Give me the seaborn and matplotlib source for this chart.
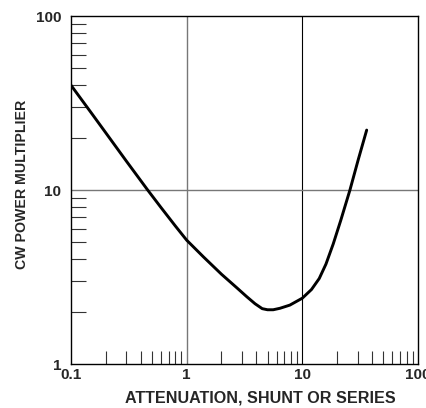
import matplotlib
matplotlib.use("Agg")
import matplotlib.pyplot as plt
import matplotlib.ticker as mticker
import numpy as np
import pandas as pd
import seaborn as sns

# curve (log-log)
attenuation = [0.1, 0.15, 0.2, 0.3, 0.46, 0.6, 0.8, 1.0, 1.4, 2.0, 2.7, 3.3, 3.9,
               4.5, 5.0, 5.6, 6.4, 7.8, 10, 12, 14, 16, 18.5, 21.5, 25.8, 30.4, 36]
multiplier = [40, 27.7, 21.3, 14.7, 10, 7.93, 6.2, 5.15, 4.12, 3.28, 2.75, 2.44, 2.22,
              2.08, 2.05, 2.05, 2.09, 2.18, 2.39, 2.68, 3.1, 3.75, 4.9, 6.7, 10, 14.9, 22.1]

major_x = [0.1, 1, 10, 100]
major_x_labels = ["0.1", "1", "10", "100"]
major_y = [1, 10, 100]
major_y_labels = ["1", "10", "100"]

df = pd.DataFrame({"att": attenuation, "mult": multiplier})

sns.set_style("white")
plt.rcParams["font.family"] = ["Liberation Sans", "DejaVu Sans"]

fig = plt.figure(figsize=(4.26, 4.08), dpi=100)
ax = fig.add_axes([71 / 426, 44 / 408, 347 / 426, 348 / 408])

sns.lineplot(data=df, x="att", y="mult", color="black", linewidth=2.1, ax=ax,
             sort=False)

ax.set_xscale("log")
ax.set_yscale("log")
ax.set_xlim(0.1, 100)
ax.set_ylim(1, 100)

ax.set_xticks(major_x)
ax.set_xticklabels(major_x_labels)
ax.set_yticks(major_y)
ax.set_yticklabels(major_y_labels)
ax.xaxis.set_minor_locator(mticker.LogLocator(base=10, subs=np.arange(2, 10)))
ax.yaxis.set_minor_locator(mticker.LogLocator(base=10, subs=np.arange(2, 10)))
ax.xaxis.set_minor_formatter(mticker.NullFormatter())
ax.yaxis.set_minor_formatter(mticker.NullFormatter())

ax.tick_params(which="major", length=0, labelsize=11, pad=3)
ax.tick_params(axis="y", which="major", pad=7)
ax.tick_params(which="minor", direction="in", width=0.8, color="#333333")
ax.tick_params(axis="y", which="minor", length=10.8, left=True)
ax.tick_params(axis="x", which="minor", length=9.4, bottom=True)
for lab in ax.get_xticklabels() + ax.get_yticklabels():
    lab.set_fontweight("bold")

# grid lines at the inner decades only
ax.axvline(1, color="#777777", linewidth=1.0, zorder=0)
ax.axvline(10, color="black", linewidth=0.8, zorder=0)
ax.axhline(10, color="#777777", linewidth=1.0, zorder=0)

for s in ax.spines.values():
    s.set_color("black")
    s.set_linewidth(1.0)

ax.set_xlabel("ATTENUATION, SHUNT OR SERIES", fontsize=11.6, fontweight="bold",
              labelpad=6)
ax.set_ylabel("CW POWER MULTIPLIER", fontsize=10.2, fontweight="bold", labelpad=5)
# labels sit a little off-centre in the original
ax.xaxis.label.set_x(0.545)
ax.yaxis.label.set_y(0.517)

fig.savefig("out.png", dpi=100)
